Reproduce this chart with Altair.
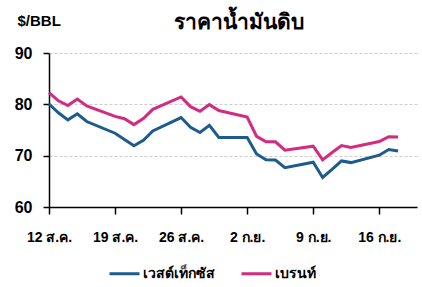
import altair as alt
import pandas as pd

dates = ["2024-08-12", "2024-08-13", "2024-08-14", "2024-08-15", "2024-08-16",
         "2024-08-19", "2024-08-20", "2024-08-21", "2024-08-22", "2024-08-23",
         "2024-08-26", "2024-08-27", "2024-08-28", "2024-08-29", "2024-08-30",
         "2024-09-02", "2024-09-03", "2024-09-04", "2024-09-05", "2024-09-06",
         "2024-09-09", "2024-09-10", "2024-09-11", "2024-09-12", "2024-09-13",
         "2024-09-16", "2024-09-17", "2024-09-18"]
wti = [80.06, 78.35, 76.98, 78.16, 76.65,
       74.37, 73.17, 71.93, 73.01, 74.83,
       77.42, 75.53, 74.52, 75.91, 73.55,
       73.55, 70.34, 69.20, 69.15, 67.67,
       68.71, 65.75, 67.31, 68.97, 68.65,
       70.09, 71.19, 70.91]
brent = [82.30, 80.69, 79.76, 81.04, 79.68,
         77.66, 77.20, 76.05, 77.22, 79.02,
         81.43, 79.55, 78.65, 79.94, 78.80,
         77.52, 73.75, 72.70, 72.69, 71.06,
         71.84, 69.19, 70.61, 71.97, 71.61,
         72.75, 73.70, 73.65]
series_names = ["เวสต์เท็กซัส", "เบรนท์"]
series_colors = ["#1d5b8c", "#d42a80"]
tick_days = [0, 7, 14, 21, 28, 35]
tick_labels = ["12 ส.ค.", "19 ส.ค.", "26 ส.ค.", "2 ก.ย.", "9 ก.ย.", "16 ก.ย."]

d0 = pd.Timestamp(dates[0])
day = [(pd.Timestamp(d) - d0).days for d in dates]
df = pd.concat([
    pd.DataFrame({"day": day, "price": wti, "series": series_names[0]}),
    pd.DataFrame({"day": day, "price": brent, "series": series_names[1]}),
])

label_expr = "[" + ",".join("'" + t + "'" for t in tick_labels) + "][datum.value / 7]"

FONT = "Liberation Sans"

chart = alt.Chart(df).mark_line(strokeWidth=3).encode(
    x=alt.X("day:Q", scale=alt.Scale(domain=[0, 39], nice=False),
            axis=alt.Axis(values=tick_days, labelExpr=label_expr, title=None,
                          grid=False, domain=True, domainColor="black", domainWidth=1.5,
                          tickColor="black", tickWidth=1.5, tickSize=7,
                          labelFlush=False, labelOverlap=False,
                          labelFont=FONT, labelFontSize=14, labelFontWeight="bold",
                          labelColor="black", labelPadding=16)),
    y=alt.Y("price:Q", scale=alt.Scale(domain=[60, 90], nice=False),
            axis=alt.Axis(values=[60, 70, 80, 90], title="$/BBL", titleAngle=0,
                          titleX=-32, titleY=-33, titleAlign="left", titleBaseline="middle",
                          titleFont=FONT, titleFontSize=15, titleFontWeight="bold",
                          titleColor="black",
                          grid=True, gridColor="#cccccc", gridDash=[3, 2], gridWidth=1,
                          domain=True, domainColor="black", domainWidth=1.5,
                          tickColor="black", tickWidth=1.5, tickSize=6,
                          labelFlush=False,
                          labelFont=FONT, labelFontSize=16, labelFontWeight="bold",
                          labelColor="black", labelPadding=11)),
    color=alt.Color("series:N", scale=alt.Scale(domain=series_names, range=series_colors),
                    legend=alt.Legend(title=None, orient="none", legendX=59, legendY=204,
                                      direction="horizontal", symbolType="stroke",
                                      symbolSize=900, symbolStrokeWidth=3,
                                      labelFont=FONT, labelFontSize=14, labelFontWeight="bold",
                                      labelColor="black", columnPadding=20, labelOffset=2)),
).properties(
    width=368, height=154,
    title=alt.TitleParams("ราคาน้ำมันดิบ", font=FONT, fontSize=21, fontWeight="bold",
                          color="black", anchor="middle", dx=6, dy=24, offset=4),
    padding={"left": 49, "top": 53, "right": 5, "bottom": 80},
    autosize=alt.AutoSizeParams(type="none"),
).configure_view(stroke=None)

chart.save("out.html", embed_options={"renderer": "svg", "actions": False})
